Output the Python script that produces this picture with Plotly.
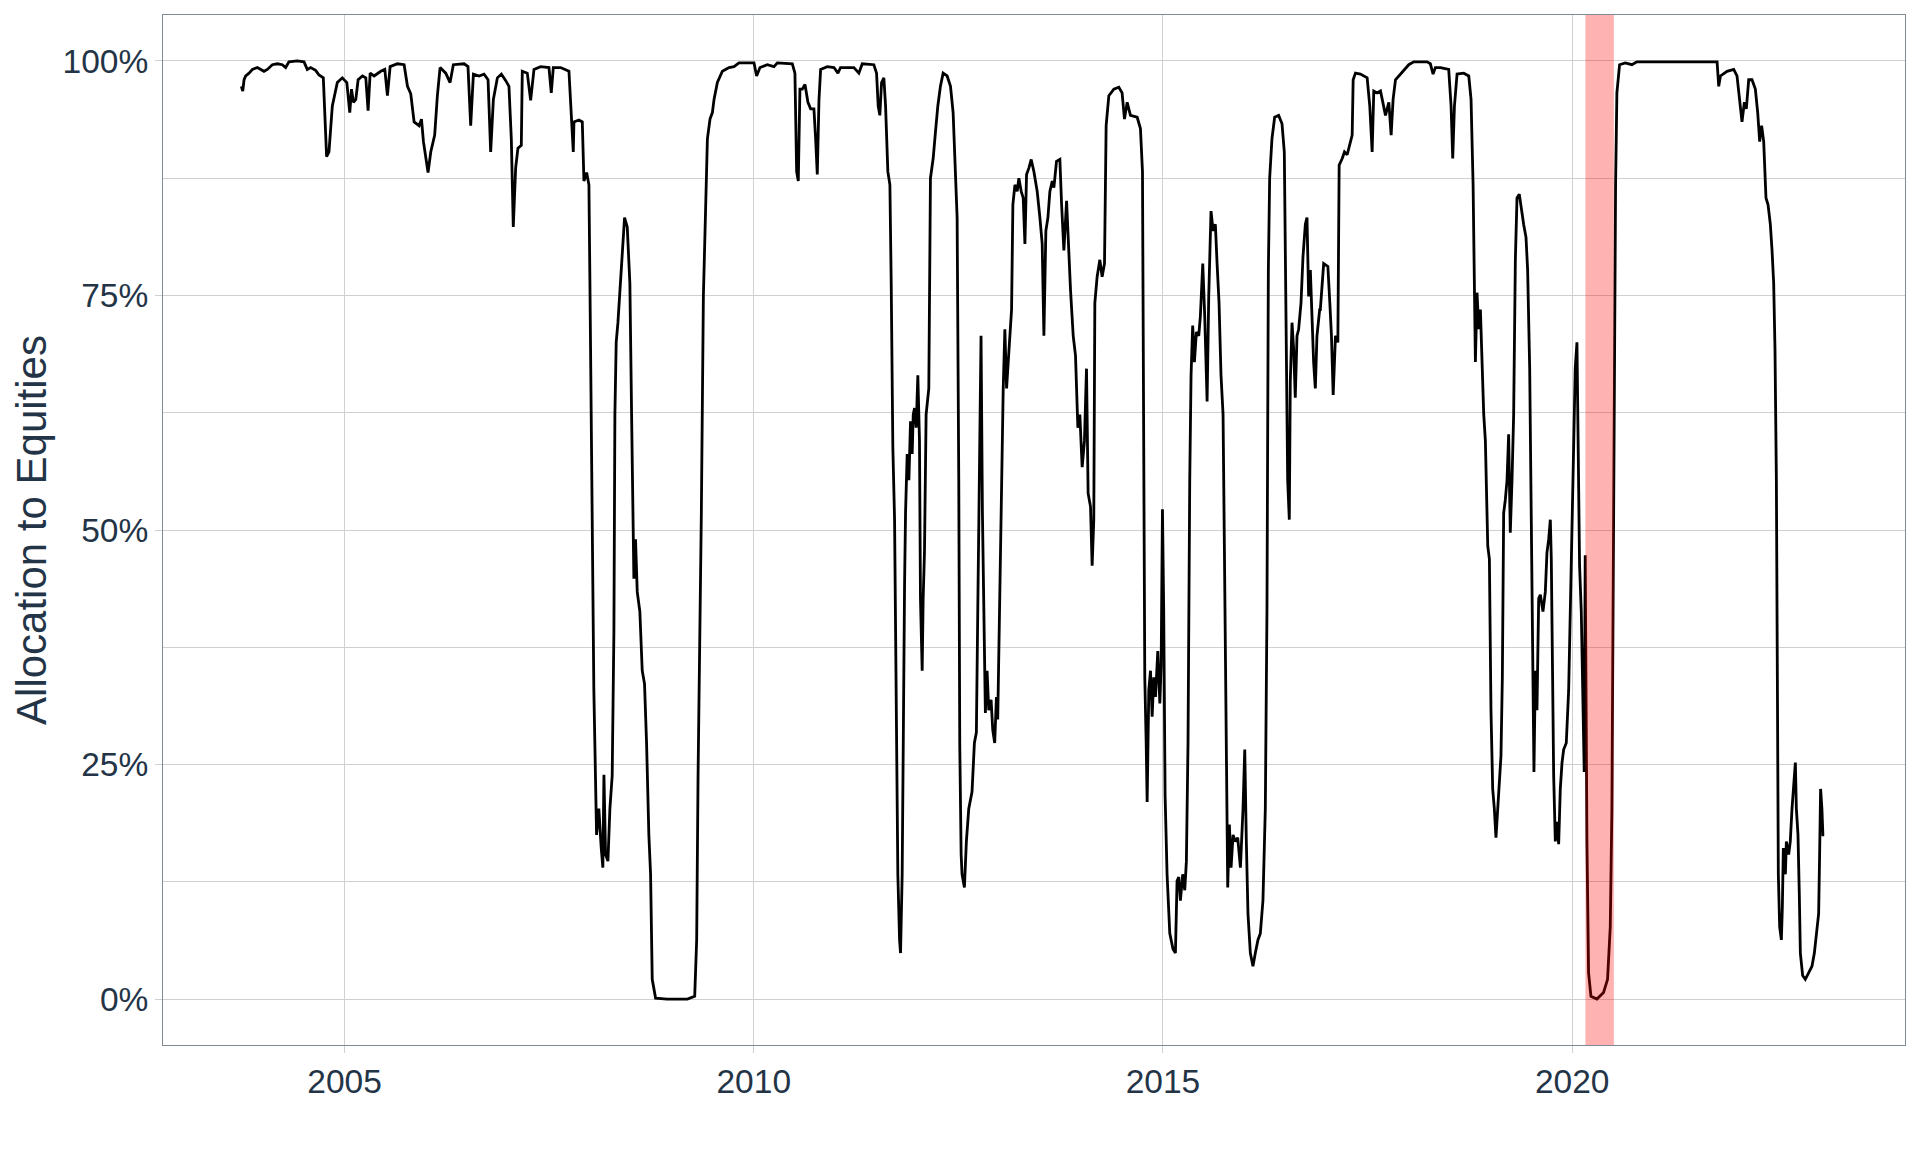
import pandas as pd
import plotly.graph_objects as go

# Decimal-year positions of the traced observations
year_pts = [
    2003.741, 2003.758, 2003.774, 2003.794, 2003.835, 2003.876, 2003.937, 2003.977, 2004.018, 2004.059,
    2004.120, 2004.181, 2004.242, 2004.283, 2004.323, 2004.425, 2004.507, 2004.547, 2004.588, 2004.649,
    2004.690, 2004.743, 2004.783, 2004.812, 2004.853, 2004.914, 2004.975, 2005.028, 2005.064, 2005.085,
    2005.109, 2005.138, 2005.166, 2005.219, 2005.260, 2005.288, 2005.313, 2005.361, 2005.443, 2005.492,
    2005.524, 2005.557, 2005.647, 2005.728, 2005.769, 2005.809, 2005.850, 2005.911, 2005.940, 2005.964,
    2006.021, 2006.054, 2006.102, 2006.135, 2006.168, 2006.237, 2006.290, 2006.330, 2006.461, 2006.509,
    2006.542, 2006.575, 2006.644, 2006.705, 2006.754, 2006.786, 2006.819, 2006.868, 2006.917, 2006.970,
    2007.010, 2007.039, 2007.063, 2007.092, 2007.120, 2007.161, 2007.173, 2007.234, 2007.275, 2007.316,
    2007.397, 2007.499, 2007.527, 2007.552, 2007.641, 2007.743, 2007.772, 2007.796, 2007.804, 2007.865,
    2007.906, 2007.926, 2007.959, 2007.987, 2008.000, 2008.016, 2008.032, 2008.048, 2008.081, 2008.109,
    2008.138, 2008.158,
    2008.171, 2008.191, 2008.220, 2008.244, 2008.272, 2008.293, 2008.305, 2008.321, 2008.342, 2008.366,
    2008.395, 2008.423, 2008.456, 2008.488, 2008.509, 2008.525, 2008.537, 2008.557, 2008.578, 2008.610,
    2008.639, 2008.667, 2008.692, 2008.720, 2008.741, 2008.761, 2008.802, 2008.944, 2009.188, 2009.278,
    2009.302, 2009.319, 2009.339, 2009.359, 2009.384, 2009.412, 2009.433, 2009.465, 2009.494, 2009.514,
    2009.555, 2009.616, 2009.697, 2009.758, 2009.819, 2010.003, 2010.035, 2010.076, 2010.166, 2010.247,
    2010.288, 2010.471, 2010.503, 2010.524, 2010.544, 2010.564, 2010.593, 2010.626, 2010.662, 2010.695,
    2010.735, 2010.756, 2010.776, 2010.797, 2010.817, 2010.898, 2010.980, 2011.029, 2011.061, 2011.224,
    2011.285, 2011.326, 2011.468, 2011.501, 2011.521, 2011.541, 2011.562, 2011.590, 2011.611, 2011.639,
    2011.664, 2011.680, 2011.700, 2011.721, 2011.741, 2011.761, 2011.782, 2011.794, 2011.814, 2011.826,
    2011.843, 2011.855, 2011.875, 2011.896, 2011.916, 2011.936, 2011.949, 2011.965, 2011.985, 2012.006,
    2012.026, 2012.038, 2012.059, 2012.071, 2012.087, 2012.107, 2012.140, 2012.160, 2012.193, 2012.221,
    2012.250, 2012.282, 2012.315, 2012.364, 2012.405, 2012.437, 2012.466, 2012.486, 2012.506, 2012.518,
    2012.535,
    2012.546, 2012.575, 2012.599, 2012.628, 2012.668, 2012.697, 2012.721, 2012.738, 2012.758, 2012.778,
    2012.795, 2012.811, 2012.831, 2012.852, 2012.872, 2012.901, 2012.921, 2012.945, 2012.966, 2012.982,
    2013.006, 2013.027, 2013.047, 2013.067, 2013.088, 2013.108, 2013.129, 2013.149, 2013.165, 2013.190,
    2013.218, 2013.238, 2013.267, 2013.291, 2013.312, 2013.332, 2013.361, 2013.389, 2013.422, 2013.462,
    2013.495, 2013.523, 2013.544, 2013.568, 2013.593, 2013.617, 2013.646, 2013.666, 2013.698, 2013.739,
    2013.760, 2013.788, 2013.821, 2013.849, 2013.869, 2013.902, 2013.930, 2013.959, 2013.983, 2014.012,
    2014.040, 2014.065, 2014.085, 2014.114, 2014.134, 2014.154, 2014.167, 2014.195, 2014.228, 2014.256,
    2014.285, 2014.305, 2014.338, 2014.399, 2014.460, 2014.500, 2014.529, 2014.562, 2014.602, 2014.684,
    2014.724, 2014.749, 2014.765, 2014.777, 2014.794, 2014.806, 2014.826, 2014.847, 2014.867, 2014.887,
    2014.908, 2014.936, 2014.961, 2014.977, 2014.993, 2015.009, 2015.026, 2015.050, 2015.083, 2015.123,
    2015.152, 2015.172, 2015.193, 2015.213, 2015.241, 2015.266, 2015.286, 2015.306, 2015.327, 2015.343,
    2015.363, 2015.384, 2015.408, 2015.437, 2015.457, 2015.486, 2015.510, 2015.539, 2015.559, 2015.587,
    2015.612, 2015.640, 2015.661, 2015.685, 2015.709, 2015.734, 2015.750, 2015.771, 2015.791, 2015.811,
    2015.832, 2015.856, 2015.885, 2015.913, 2015.946, 2015.978, 2015.999, 2016.019, 2016.039, 2016.068,
    2016.100, 2016.129, 2016.161, 2016.190, 2016.222, 2016.251, 2016.271, 2016.288, 2016.304, 2016.332,
    2016.365, 2016.414, 2016.455, 2016.483, 2016.503, 2016.524, 2016.544, 2016.556, 2016.577, 2016.597,
    2016.617, 2016.638, 2016.658, 2016.687, 2016.711, 2016.740, 2016.760, 2016.780, 2016.801, 2016.821,
    2016.841, 2016.862, 2016.882, 2016.915,
    2016.923, 2016.964, 2017.013, 2017.037, 2017.057, 2017.078, 2017.106, 2017.135, 2017.151, 2017.188,
    2017.216, 2017.249, 2017.281, 2017.310, 2017.322, 2017.350, 2017.411, 2017.493, 2017.525, 2017.554,
    2017.574, 2017.615, 2017.656, 2017.688, 2017.717, 2017.737, 2017.758, 2017.786, 2017.810, 2017.839,
    2017.900, 2017.941, 2018.002, 2018.063, 2018.226, 2018.266, 2018.299, 2018.327, 2018.389, 2018.490,
    2018.519, 2018.539, 2018.560, 2018.592, 2018.674, 2018.735, 2018.763, 2018.788, 2018.800, 2018.816,
    2018.836, 2018.857, 2018.877, 2018.897, 2018.918, 2018.938, 2018.950, 2018.967, 2018.987, 2019.007,
    2019.028, 2019.048, 2019.068, 2019.089, 2019.109, 2019.129, 2019.146, 2019.162, 2019.182, 2019.203,
    2019.223, 2019.243, 2019.264, 2019.284, 2019.305, 2019.325, 2019.353, 2019.378, 2019.406, 2019.435,
    2019.455, 2019.480, 2019.500, 2019.520, 2019.532, 2019.549, 2019.569, 2019.590, 2019.610, 2019.642,
    2019.671, 2019.691, 2019.712, 2019.732, 2019.744, 2019.760, 2019.773, 2019.793, 2019.813, 2019.834,
    2019.854, 2019.875, 2019.895, 2019.927, 2019.956, 2019.976, 2019.997, 2020.017, 2020.037, 2020.058,
    2020.070, 2020.090, 2020.111, 2020.127, 2020.147, 2020.159, 2020.168, 2020.180, 2020.200, 2020.229,
    2020.302, 2020.383, 2020.432, 2020.465, 2020.485, 2020.497, 2020.514, 2020.530, 2020.546, 2020.579,
    2020.648, 2020.729, 2020.790, 2020.994,
    2021.076, 2021.564, 2021.768, 2021.788, 2021.809, 2021.890, 2021.971, 2022.012, 2022.045, 2022.073,
    2022.102, 2022.126, 2022.155, 2022.195, 2022.236, 2022.265, 2022.289, 2022.313, 2022.338, 2022.366,
    2022.391, 2022.419, 2022.440, 2022.460, 2022.476, 2022.493, 2022.505, 2022.517, 2022.533, 2022.554,
    2022.566, 2022.578, 2022.603, 2022.615, 2022.643, 2022.663, 2022.684, 2022.704, 2022.725, 2022.737,
    2022.757, 2022.773, 2022.786, 2022.814, 2022.846, 2022.887, 2022.928, 2022.957, 2022.989, 2023.010,
    2023.022, 2023.034, 2023.050, 2023.062, 2023.078,
]

# Allocation to equities (fraction) at each of those dates
allocation = [
    0.973, 0.968, 0.980, 0.984, 0.987, 0.991, 0.993, 0.991, 0.989, 0.991,
    0.996, 0.997, 0.996, 0.993, 0.999, 1.000, 0.999, 0.991, 0.993, 0.990,
    0.985, 0.982, 0.898, 0.903, 0.952, 0.977, 0.982, 0.977, 0.945, 0.970,
    0.956, 0.959, 0.980, 0.984, 0.982, 0.947, 0.987, 0.984, 0.989, 0.991,
    0.963, 0.994, 0.997, 0.996, 0.973, 0.965, 0.935, 0.931, 0.938, 0.914,
    0.881, 0.903, 0.921, 0.963, 0.993, 0.987, 0.977, 0.996, 0.997, 0.994,
    0.931, 0.986, 0.984, 0.986, 0.980, 0.903, 0.959, 0.982, 0.986, 0.979,
    0.973, 0.917, 0.823, 0.886, 0.907, 0.910, 0.989, 0.987, 0.958, 0.991,
    0.994, 0.993, 0.966, 0.993, 0.993, 0.989, 0.938, 0.903, 0.935, 0.937,
    0.935, 0.872, 0.881, 0.868, 0.763, 0.623, 0.427, 0.329, 0.175, 0.203,
    0.161, 0.140,
    0.239, 0.154, 0.147, 0.203, 0.238, 0.392, 0.623, 0.700, 0.721, 0.756,
    0.798, 0.833, 0.823, 0.763, 0.623, 0.497, 0.448, 0.490, 0.434, 0.413,
    0.350, 0.336, 0.273, 0.175, 0.133, 0.021, 0.001, 0.000, 0.000, 0.003,
    0.063, 0.238, 0.371, 0.518, 0.749, 0.833, 0.917, 0.938, 0.945, 0.959,
    0.977, 0.989, 0.993, 0.994, 0.998, 0.998, 0.984, 0.993, 0.996, 0.994,
    0.998, 0.997, 0.987, 0.882, 0.872, 0.970, 0.970, 0.975, 0.956, 0.949,
    0.949, 0.917, 0.879, 0.959, 0.991, 0.994, 0.993, 0.987, 0.993, 0.993,
    0.987, 0.997, 0.996, 0.987, 0.952, 0.942, 0.977, 0.982, 0.952, 0.882,
    0.868, 0.763, 0.588, 0.511, 0.343, 0.133, 0.063, 0.049, 0.133, 0.308,
    0.441, 0.518, 0.581, 0.553, 0.616, 0.581, 0.623, 0.630, 0.609, 0.665,
    0.595, 0.427, 0.350, 0.427, 0.476, 0.623, 0.651, 0.875, 0.896, 0.924,
    0.952, 0.973, 0.987, 0.984, 0.973, 0.945, 0.882, 0.833, 0.553, 0.273,
    0.154,
    0.133, 0.119, 0.168, 0.203, 0.221, 0.273, 0.284, 0.413, 0.553, 0.707,
    0.518, 0.427, 0.305, 0.350, 0.308, 0.319, 0.287, 0.273, 0.322, 0.298,
    0.448, 0.553, 0.651, 0.714, 0.651, 0.679, 0.714, 0.735, 0.847, 0.868,
    0.861, 0.875, 0.861, 0.854, 0.805, 0.879, 0.886, 0.895, 0.882, 0.861,
    0.833, 0.805, 0.707, 0.819, 0.833, 0.861, 0.872, 0.865, 0.893, 0.895,
    0.847, 0.798, 0.851, 0.791, 0.756, 0.707, 0.686, 0.609, 0.623, 0.567,
    0.595, 0.672, 0.539, 0.525, 0.462, 0.511, 0.742, 0.770, 0.788, 0.770,
    0.784, 0.931, 0.963, 0.970, 0.972, 0.966, 0.938, 0.956, 0.942, 0.940,
    0.928, 0.882, 0.623, 0.343, 0.273, 0.210, 0.329, 0.350, 0.301, 0.343,
    0.322, 0.371, 0.315, 0.357, 0.522, 0.413, 0.217, 0.133, 0.070, 0.053,
    0.049, 0.126, 0.130, 0.105, 0.133, 0.116, 0.147, 0.273, 0.553, 0.665,
    0.718, 0.679, 0.711, 0.707, 0.728, 0.784, 0.728, 0.637, 0.749, 0.840,
    0.819, 0.826, 0.784, 0.742, 0.665, 0.623, 0.483, 0.273, 0.119, 0.186,
    0.140, 0.175, 0.168, 0.172, 0.140, 0.203, 0.266, 0.168, 0.091, 0.049,
    0.035, 0.049, 0.063, 0.070, 0.105, 0.203, 0.413, 0.777, 0.875, 0.917,
    0.940, 0.942, 0.933, 0.903, 0.728, 0.553, 0.511, 0.658, 0.721, 0.693,
    0.641, 0.707, 0.714, 0.742, 0.791, 0.826, 0.833, 0.749, 0.777, 0.728,
    0.679, 0.651, 0.707, 0.735,
    0.735, 0.784, 0.781, 0.742, 0.707, 0.644, 0.707, 0.700, 0.889, 0.896,
    0.903, 0.900, 0.910, 0.921, 0.980, 0.987, 0.986, 0.982, 0.952, 0.903,
    0.968, 0.966, 0.968, 0.956, 0.942, 0.949, 0.956, 0.921, 0.959, 0.980,
    0.986, 0.989, 0.996, 0.999, 0.999, 0.997, 0.986, 0.993, 0.993, 0.991,
    0.952, 0.896, 0.952, 0.986, 0.987, 0.984, 0.959, 0.868, 0.777, 0.679,
    0.753, 0.714, 0.735, 0.672, 0.623, 0.595, 0.553, 0.483, 0.469, 0.308,
    0.224, 0.203, 0.172, 0.203, 0.238, 0.259, 0.343, 0.518, 0.532, 0.553,
    0.602, 0.497, 0.553, 0.623, 0.788, 0.854, 0.858, 0.840, 0.826, 0.812,
    0.777, 0.672, 0.483, 0.273, 0.242, 0.350, 0.308, 0.427, 0.431, 0.413,
    0.434, 0.476, 0.490, 0.511, 0.469, 0.343, 0.238, 0.168, 0.189, 0.165,
    0.224, 0.252, 0.266, 0.273, 0.329, 0.413, 0.504, 0.602, 0.672, 0.700,
    0.609, 0.462, 0.413, 0.343, 0.242, 0.473, 0.343, 0.168, 0.028, 0.003,
    0.000, 0.007, 0.021, 0.077, 0.203, 0.413, 0.693, 0.868, 0.966, 0.996,
    0.998, 0.996, 0.999, 0.999,
    0.999, 0.999, 0.999, 0.973, 0.984, 0.989, 0.991, 0.984, 0.959, 0.935,
    0.956, 0.949, 0.980, 0.980, 0.970, 0.945, 0.914, 0.931, 0.914, 0.854,
    0.847, 0.826, 0.798, 0.763, 0.693, 0.553, 0.343, 0.133, 0.077, 0.063,
    0.098, 0.161, 0.133, 0.168, 0.154, 0.168, 0.203, 0.224, 0.252, 0.203,
    0.175, 0.112, 0.049, 0.025, 0.021, 0.028, 0.035, 0.049, 0.077, 0.091,
    0.154, 0.224, 0.203, 0.175, 0.175,
]

x_tick_years = [2005, 2010, 2015, 2020]
y_tick_values = [0, 0.25, 0.5, 0.75, 1.0]
shade_start, shade_end = "2020-02-29", "2020-07-05"
x_range = ["2002-10-14", "2024-01-25"]
y_range = [-0.049, 1.049]


def to_date(y):
    base = pd.Timestamp(year=int(y), month=1, day=1)
    return base + pd.to_timedelta((y - int(y)) * 365.25, unit="D")


dates = [to_date(y) for y in year_pts]

FONT = "Arial, 'Liberation Sans', Helvetica, sans-serif"
TXT = "#243447"
GRID = "#d0d0d0"
TICK_SIZE = 33.5

fig = go.Figure()
fig.add_trace(go.Scatter(
    x=dates, y=allocation, mode="lines",
    line=dict(color="black", width=2.8),
    showlegend=False, hoverinfo="x+y",
))

fig.add_shape(
    type="rect", xref="x", yref="paper",
    x0=shade_start, x1=shade_end, y0=0, y1=1,
    fillcolor="rgba(255,0,0,0.3)", line=dict(width=0), layer="above",
)

# the page body adds an 8px offset, so the figure is sized to end at the window edge
fig.update_layout(
    width=1912, height=1144,
    margin=dict(l=155, r=15, t=7, b=107),
    paper_bgcolor="white", plot_bgcolor="white",
    font=dict(family=FONT, color=TXT, size=TICK_SIZE),
)

fig.update_xaxes(
    type="date", range=x_range,
    tickvals=[f"{y}-01-01" for y in x_tick_years],
    ticktext=[str(y) for y in x_tick_years],
    showgrid=True, gridcolor=GRID, gridwidth=1,
    ticks="outside", ticklen=7, tickcolor=GRID,
    showline=True, linecolor="#7f8a96", linewidth=1, mirror=True,
    zeroline=False, tickfont=dict(size=TICK_SIZE),
)

fig.update_yaxes(
    range=y_range,
    tickvals=y_tick_values, tickformat=".0%",
    showgrid=True, gridcolor=GRID, gridwidth=1,
    minor=dict(dtick=0.125, tick0=0, showgrid=True, gridcolor=GRID, gridwidth=1),
    ticks="outside", ticklen=7, tickcolor=GRID,
    showline=True, linecolor="#7f8a96", linewidth=1, mirror=True,
    zeroline=False, tickfont=dict(size=TICK_SIZE),
    title=dict(text="Allocation to Equities", font=dict(size=42), standoff=10),
)

fig.write_html("out.html")
